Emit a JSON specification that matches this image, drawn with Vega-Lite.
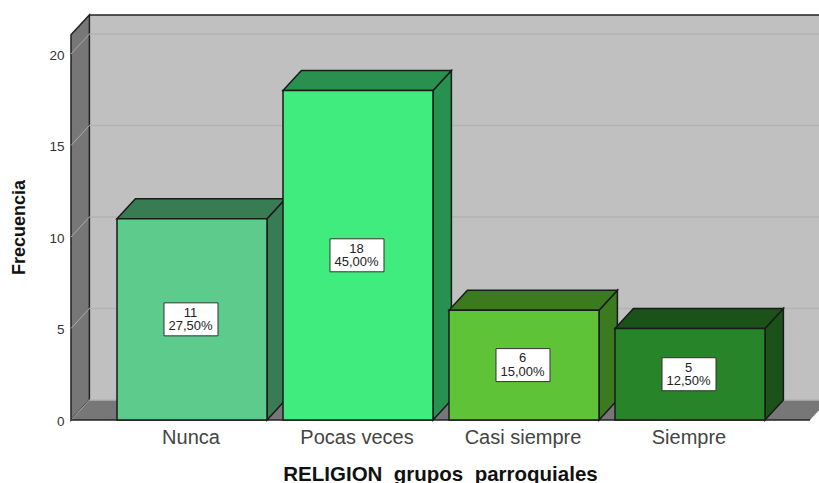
{
"$schema":"https://vega.github.io/schema/vega-lite/v6.json",
"width":748,"height":405,
"autosize":{"type":"none"},
"padding":{"left":71,"top":15,"right":0,"bottom":63},
"background":"white",
"config":{"view":{"stroke":null},"axis":{"grid":false},"font":"Liberation Sans"},
"datasets":{
"barras":[
{"categoria":"Nunca","orden":1,"frecuencia":11,"porcentaje":"27,50%"},
{"categoria":"Pocas veces","orden":2,"frecuencia":18,"porcentaje":"45,00%"},
{"categoria":"Casi siempre","orden":3,"frecuencia":6,"porcentaje":"15,00%"},
{"categoria":"Siempre","orden":4,"frecuencia":5,"porcentaje":"12,50%"}
],
"marcas":[{"valor":0},{"valor":5},{"valor":10},{"valor":15},{"valor":20}],
"fondo":[{"d":0},{"d":1}],
"plano":[{"plano":"pared"}]
},
"data":{"name":"barras"},
"layer":[
{"data":{"name":"plano"},
"mark":{"type":"rect","fill":"#c0c0c0","clip":true},
"encoding":{
"x":{"datum":0.3819,"type":"quantitative","scale":{"domain":[0.2711,4.7771],"nice":false,"zero":false},
"axis":{"title":"RELIGION_grupos_parroquiales","values":[1,2,3,4],"labelExpr":"['Nunca','Pocas veces','Casi siempre','Siempre'][datum.value-1]","domain":false,"ticks":false,"labelFontSize":20,"labelColor":"#444444","labelPadding":7,"labelOffset":-1.5,"labelFont":"Liberation Sans","titleFontSize":20.5,"titleFontWeight":"bold","titleColor":"#111111","titleX":369,"titleY":60,"titleBaseline":"alphabetic","labelFlush":false,"labelOverlap":false}},
"x2":{"datum":5},
"y":{"datum":1.093,"type":"quantitative","scale":{"domain":[0,22.131],"nice":false,"zero":false},
"axis":{"title":"Frecuencia","values":[0,5,10,15,20],"domain":false,"ticks":false,"labelFontSize":13.5,"labelColor":"#333333","labelPadding":7,"labelOffset":1.5,"labelFont":"Liberation Sans","titleFontSize":18,"titleFontWeight":"bold","titleColor":"#111111","titleX":-42.5,"titleY":212,"titleAlign":"center","titleAnchor":"middle"}},
"y2":{"datum":22.131}}},
{"data":{"name":"plano"},
"mark":{"type":"rule","stroke":"#222222","strokeWidth":1.5},
"encoding":{"y":{"datum":22.131,"type":"quantitative"},"x":{"datum":0.3819,"type":"quantitative"},"x2":{"datum":4.7771}}},
{"data":{"name":"fondo"},
"transform":[{"calculate":"0.2711+datum.d*0.1108","as":"xp"},{"calculate":"21.05+datum.d*1.081","as":"arriba"},{"calculate":"datum.d*1.093","as":"abajo"}],
"mark":{"type":"area","orient":"vertical","fill":"#777777","stroke":"#222222","strokeWidth":1.5},
"encoding":{"x":{"field":"xp","type":"quantitative"},"y":{"field":"arriba","type":"quantitative"},"y2":{"field":"abajo"}}},
{"data":{"name":"fondo"},
"transform":[{"calculate":"datum.d*1.093","as":"yp"},{"calculate":"0.2711+datum.d*0.1108","as":"xi"},{"calculate":"4.723+datum.d*0.1108","as":"xd"}],
"mark":{"type":"area","orient":"horizontal","fill":"#777777","clip":true},
"encoding":{"y":{"field":"yp","type":"quantitative"},"x":{"field":"xi","type":"quantitative"},"x2":{"field":"xd"}}},
{"data":{"name":"marcas"},
"transform":[{"calculate":"datum.valor+1.093","as":"yg"}],
"mark":{"type":"rule","stroke":"#b3b3b3","strokeWidth":1.5,"clip":true},
"encoding":{"y":{"field":"yg","type":"quantitative"},"x":{"datum":0.3819,"type":"quantitative"},"x2":{"datum":5}}},
{"data":{"name":"marcas"},
"transform":[{"calculate":"[0,1]","as":"d"},{"flatten":["d"]},{"calculate":"0.2711+datum.d*0.1108","as":"xp"},{"calculate":"datum.valor+datum.d*1.093","as":"yp"}],
"mark":{"type":"line","stroke":"#a9a9a9","strokeWidth":1},
"encoding":{"x":{"field":"xp","type":"quantitative"},"y":{"field":"yp","type":"quantitative"},"detail":{"field":"valor"}}},
{"data":{"name":"plano"},
"mark":{"type":"rule","stroke":"#222222","strokeWidth":1.5},
"encoding":{"y":{"datum":0,"type":"quantitative"},"x":{"datum":0.2711,"type":"quantitative"},"x2":{"datum":4.723}}},
{"transform":[{"calculate":"[0,1]","as":"d"},{"flatten":["d"]},{"calculate":"datum.orden+0.4518+datum.d*0.1108","as":"xs"},{"calculate":"datum.frecuencia+datum.d*1.093","as":"ys"},{"calculate":"datum.d*1.093","as":"ys0"}],
"mark":{"type":"area","orient":"vertical","stroke":"#1a1a1a","strokeWidth":1.5,"opacity":1},
"encoding":{"x":{"field":"xs","type":"quantitative"},"y":{"field":"ys","type":"quantitative"},"y2":{"field":"ys0"},
"color":{"field":"categoria","type":"nominal","legend":null,"scale":{"domain":["Nunca","Pocas veces","Casi siempre","Siempre"],"range":["#397C53","#28914F","#3C7A20","#1B5219"]}}}},
{"transform":[{"calculate":"[0,1]","as":"d"},{"flatten":["d"]},{"calculate":"datum.frecuencia+datum.d*1.093","as":"yt"},{"calculate":"datum.orden-0.4518+datum.d*0.1108","as":"xi"},{"calculate":"datum.orden+0.4518+datum.d*0.1108","as":"xd"}],
"mark":{"type":"area","orient":"horizontal","stroke":"#1a1a1a","strokeWidth":1.5,"opacity":1},
"encoding":{"y":{"field":"yt","type":"quantitative"},"x":{"field":"xi","type":"quantitative"},"x2":{"field":"xd"},
"color":{"field":"categoria","type":"nominal","legend":null,"scale":{"domain":["Nunca","Pocas veces","Casi siempre","Siempre"],"range":["#397C53","#28914F","#3C7A20","#1B5219"]}}}},
{"transform":[{"calculate":"datum.orden-0.4518","as":"xi"},{"calculate":"datum.orden+0.4518","as":"xd"}],
"mark":{"type":"rect","stroke":"#1a1a1a","strokeWidth":1.5,"opacity":1},
"encoding":{"x":{"field":"xi","type":"quantitative"},"x2":{"field":"xd"},"y":{"field":"frecuencia","type":"quantitative"},"y2":{"datum":0},
"fill":{"field":"categoria","type":"nominal","legend":null,"scale":{"domain":["Nunca","Pocas veces","Casi siempre","Siempre"],"range":["#5DCB8B","#41EC7E","#5FC337","#288428"]}}}},
{"transform":[{"calculate":"datum.frecuencia/2","as":"medio"}],
"mark":{"type":"rect","width":54,"height":33,"fill":"white","stroke":"#333333","strokeWidth":1,"xOffset":-1},
"encoding":{"x":{"field":"orden","type":"quantitative"},"y":{"field":"medio","type":"quantitative"}}},
{"transform":[{"calculate":"datum.frecuencia/2","as":"medio"}],
"mark":{"type":"text","fontSize":13,"color":"#222222","yOffset":-6.6,"xOffset":-1.5,"font":"Liberation Sans"},
"encoding":{"x":{"field":"orden","type":"quantitative"},"y":{"field":"medio","type":"quantitative"},"text":{"field":"frecuencia"}}},
{"transform":[{"calculate":"datum.frecuencia/2","as":"medio"}],
"mark":{"type":"text","fontSize":13,"color":"#222222","yOffset":6.6,"xOffset":-1.5,"font":"Liberation Sans"},
"encoding":{"x":{"field":"orden","type":"quantitative"},"y":{"field":"medio","type":"quantitative"},"text":{"field":"porcentaje"}}}
],
"resolve":{"scale":{"color":"independent"}}
}
